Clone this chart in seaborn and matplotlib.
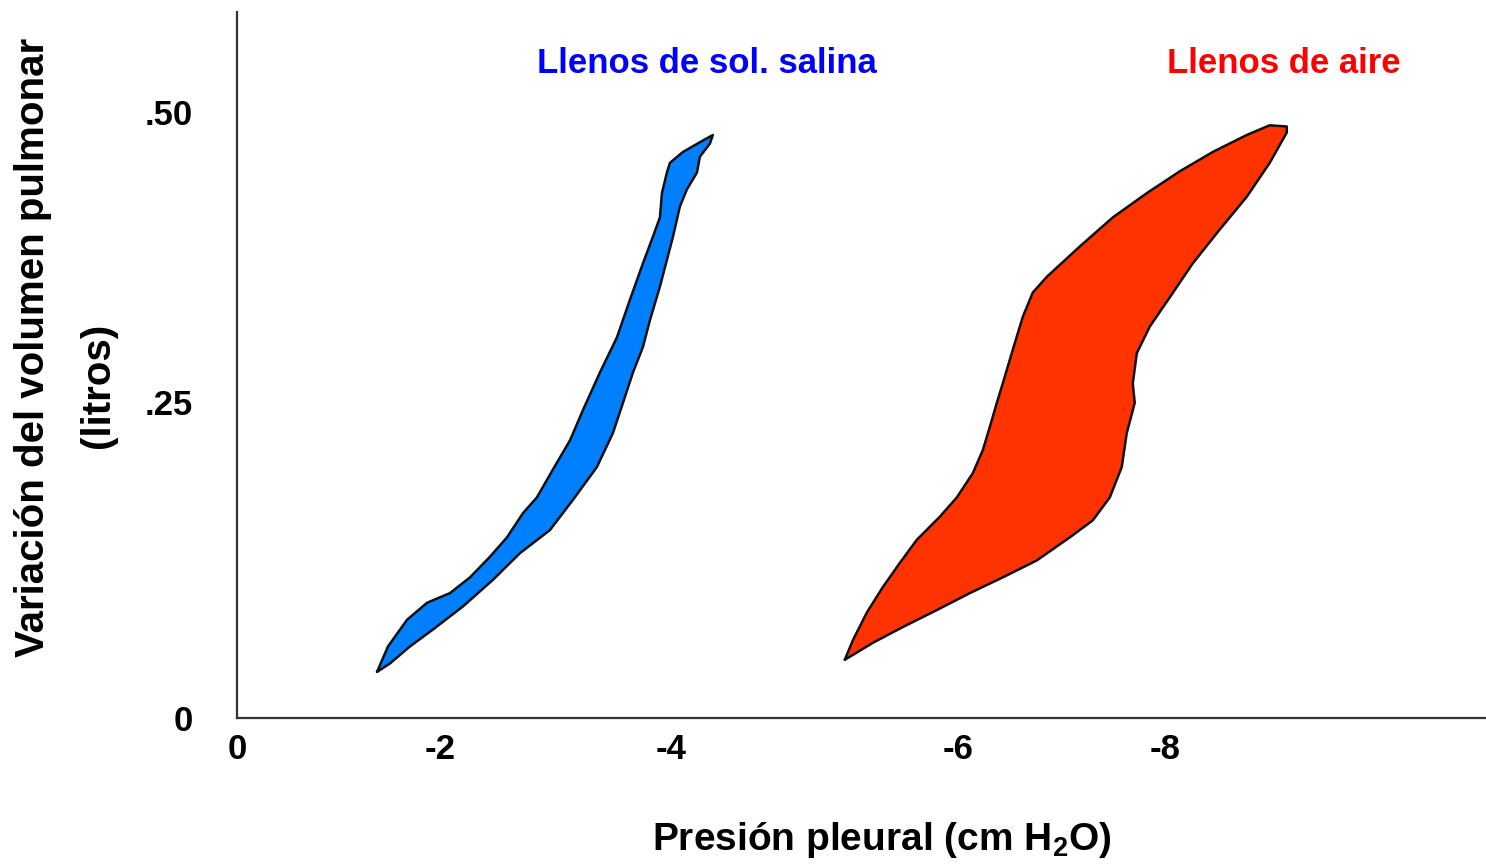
import numpy as np
import pandas as pd
import seaborn as sns
import matplotlib
matplotlib.use("Agg")
import matplotlib.pyplot as plt

# Curvas presion-volumen (x: presion pleural cm H2O, y: litros)
# pulmon lleno de solucion salina: rama de ida (arriba) y de vuelta (abajo)
salina_x = [-1.207, -1.302, -1.466, -1.638, -1.836, -2.009, -2.181, -2.328, -2.466, -2.586,
            -2.724, -2.871, -2.983, -3.129, -3.276, -3.388, -3.500, -3.586, -3.647, -3.664,
            -3.707, -3.733, -3.845, -3.991, -4.103,
            -4.078, -3.991, -3.966, -3.879, -3.819, -3.759, -3.707, -3.647, -3.560, -3.500,
            -3.414, -3.328, -3.241, -3.103, -2.897, -2.698, -2.440, -2.207, -1.948, -1.690,
            -1.491, -1.319, -1.207]
salina_y = [0.038, 0.059, 0.081, 0.095, 0.103, 0.116, 0.133, 0.149, 0.169, 0.182,
            0.205, 0.229, 0.254, 0.285, 0.314, 0.345, 0.375, 0.397, 0.413, 0.433,
            0.450, 0.458, 0.467, 0.475, 0.481,
            0.474, 0.463, 0.450, 0.436, 0.422, 0.397, 0.378, 0.356, 0.328, 0.306,
            0.285, 0.260, 0.235, 0.207, 0.180, 0.155, 0.136, 0.114, 0.092, 0.073,
            0.059, 0.045, 0.038]

# pulmon lleno de aire
aire_x = [-5.241, -5.310, -5.431, -5.569, -5.716, -5.862, -6.060, -6.207, -6.345, -6.431,
          -6.491, -6.552, -6.603, -6.690, -6.776, -6.862, -6.983, -7.267, -7.552, -7.845,
          -8.129, -8.414, -8.707, -8.905, -9.052,
          -9.052, -8.905, -8.707, -8.474, -8.241, -8.043, -7.871, -7.759, -7.724, -7.741,
          -7.672, -7.629, -7.526, -7.379, -7.181, -6.897, -6.603, -6.319, -6.034, -5.741,
          -5.483, -5.241]
aire_y = [0.048, 0.064, 0.087, 0.108, 0.128, 0.147, 0.166, 0.182, 0.202, 0.221,
          0.240, 0.260, 0.276, 0.304, 0.331, 0.351, 0.364, 0.389, 0.413, 0.433,
          0.451, 0.467, 0.481, 0.489, 0.488,
          0.483, 0.458, 0.430, 0.403, 0.375, 0.347, 0.323, 0.301, 0.276, 0.260,
          0.235, 0.207, 0.182, 0.163, 0.149, 0.130, 0.116, 0.103, 0.089, 0.075,
          0.062, 0.048]

xtick_labels = ["0", "-2", "-4", "-6", "-8"]
xtick_pos = [0, -1.75, -3.74, -6.22, -8.0]
ytick_labels = ["0", ".25", ".50"]
ytick_pos = [0, 0.261, 0.5]

sns.set_theme(style="white")
plt.rcParams['font.family'] = ['Liberation Sans', 'DejaVu Sans']
plt.rcParams['mathtext.fontset'] = 'custom'
plt.rcParams['mathtext.bf'] = 'Liberation Sans:bold'
plt.rcParams['mathtext.rm'] = 'Liberation Sans'
plt.rcParams['text.color'] = 'black'

fig = plt.figure(figsize=(14.86, 8.67), dpi=100)
ax = fig.add_axes([0.1595, 0.1719, 0.8405, 0.8143])

ax.fill(salina_x, salina_y, color="#0080FF", zorder=2)
ax.fill(aire_x, aire_y, color="#FF3300", zorder=2)

df_sal = pd.DataFrame({"x": salina_x, "y": salina_y})
df_aire = pd.DataFrame({"x": aire_x, "y": aire_y})
sns.lineplot(data=df_sal, x="x", y="y", sort=False, estimator=None, color="#111111",
             linewidth=1.8, ax=ax, zorder=3)
sns.lineplot(data=df_aire, x="x", y="y", sort=False, estimator=None, color="#111111",
             linewidth=1.8, ax=ax, zorder=3)

ax.set_xlim(0, -10.77)
ax.set_ylim(0, 0.5825)

ax.set_xticks(xtick_pos)
ax.set_xticklabels(xtick_labels, fontsize=25, fontweight="bold")
ax.set_yticks(ytick_pos)
ax.set_yticklabels(ytick_labels, fontsize=25, fontweight="bold")
ax.tick_params(axis="x", length=0, pad=11, colors="black")
ax.tick_params(axis="y", length=0, pad=32, colors="black")
ax.set_xlabel("")
ax.set_ylabel("")

for side in ["top", "right"]:
    ax.spines[side].set_visible(False)
for side in ["left", "bottom"]:
    ax.spines[side].set_color("#333333")
    ax.spines[side].set_linewidth(1.6)

ax.text(-4.05, 0.540, "Llenos de sol. salina", color="#0000FF", fontsize=25,
        fontweight="bold", ha="center", va="center")
ax.text(-9.03, 0.540, "Llenos de aire", color="#FF0000", fontsize=25,
        fontweight="bold", ha="center", va="center")

fig.text(882 / 1486, 1 - 840 / 867, r"Presión pleural (cm H$_\mathbf{2}$O)", fontsize=28,
         fontweight="bold", ha="center", va="center", color="black")
fig.text(33 / 1486, 1 - 347 / 867, "Variación del volumen pulmonar", fontsize=29,
         fontweight="bold", rotation=90, ha="center", va="center", color="black")
fig.text(98 / 1486, 1 - 385 / 867, "(litros)", fontsize=29,
         fontweight="bold", rotation=90, ha="center", va="center", color="black")

fig.savefig("out.png", dpi=100, facecolor="white")
